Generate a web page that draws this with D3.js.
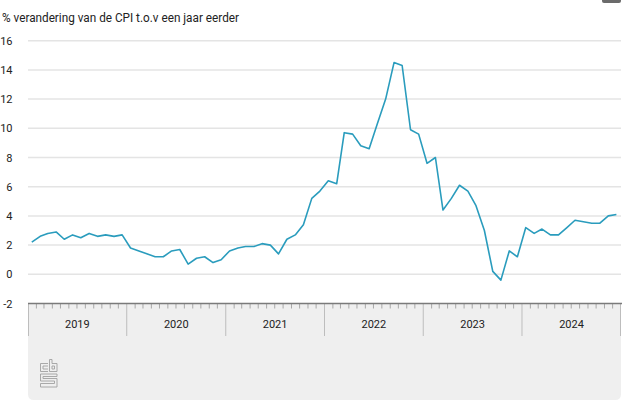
<!DOCTYPE html>
<html>
<head>
<meta charset="utf-8">
<script src="https://cdn.jsdelivr.net/npm/d3@7"></script>
<style>
  html, body { margin: 0; padding: 0; background: #fff; }
  svg { display: block; }
  text { font-family: Roboto, "Open Sans", sans-serif; }
</style>
</head>
<body>
<svg id="chart" width="623" height="415"></svg>
<script>
// ---- data ----
const title = "% verandering van de CPI t.o.v een jaar eerder";
const years = [2019, 2020, 2021, 2022, 2023, 2024];
const yTicks = [-2, 0, 2, 4, 6, 8, 10, 12, 14, 16];
const values2019 = [2.2, 2.6, 2.8, 2.9, 2.4, 2.7, 2.5, 2.8, 2.6, 2.7, 2.6, 2.7];
const values2020 = [1.8, 1.6, 1.4, 1.2, 1.2, 1.6, 1.7, 0.7, 1.1, 1.2, 0.8, 1.0];
const values2021 = [1.6, 1.8, 1.9, 1.9, 2.1, 2.0, 1.4, 2.4, 2.7, 3.4, 5.2, 5.7];
const values2022 = [6.4, 6.2, 9.7, 9.6, 8.8, 8.6, 10.3, 12.0, 14.5, 14.3, 9.9, 9.6];
const values2023 = [7.6, 8.0, 4.4, 5.2, 6.1, 5.7, 4.7, 3.0, 0.2, -0.4, 1.6, 1.2];
const values2024 = [3.2, 2.8, 3.1, 2.7, 2.7, 3.2, 3.7, 3.6, 3.5, 3.5, 4.0, 4.1];

const series = [values2019, values2020, values2021, values2022, values2023, values2024]
  .flatMap((arr, yi) => arr.map((v, m) => ({ date: new Date(years[yi], m, 15), value: v })));

// ---- layout ----
const svg = d3.select("#chart");
const pLeft = 28, pRight = 621, pTop = 40.7, pBottom = 303.5, panelBottom = 400;

const x = d3.scaleTime()
  .domain([new Date(years[0], 0, 1), new Date(years[years.length - 1] + 1, 0, 1)])
  .range([pLeft, pRight]);
const y = d3.scaleLinear().domain([-2, 16]).range([pBottom, pTop]);

// top-right menu button (cut off)
svg.append("rect").attr("x", 602).attr("y", -6).attr("width", 19).attr("height", 9)
  .attr("rx", 2).attr("fill", "#6b6b6b");

// title
svg.append("text").attr("x", 2).attr("y", 22).attr("font-size", 12.5).attr("fill", "#222")
  .attr("textLength", 237).attr("lengthAdjust", "spacingAndGlyphs")
  .text(title);

// gray panel with rounded bottom corners
const r = 6;
svg.append("path")
  .attr("d", `M${pLeft},${pBottom} H${pRight} V${panelBottom - r} Q${pRight},${panelBottom} ${pRight - r},${panelBottom} H${pLeft + r} Q${pLeft},${panelBottom} ${pLeft},${panelBottom - r} Z`)
  .attr("fill", "#efefef");

// gridlines
svg.append("g").selectAll("line").data(yTicks.filter(d => d > -2)).join("line")
  .attr("x1", pLeft).attr("x2", pRight)
  .attr("y1", d => y(d)).attr("y2", d => y(d))
  .attr("stroke", "#e4e4e4").attr("stroke-width", 1.5);

// y labels
const yAxis = d3.axisLeft(y).tickValues(yTicks).tickSize(0).tickPadding(0)
  .tickFormat(d => String(d));
const gy = svg.append("g").attr("transform", "translate(12.5,0)").call(yAxis);
gy.select(".domain").remove();
gy.selectAll("text").attr("font-size", 11).attr("fill", "#222")
  .attr("font-family", "Roboto, sans-serif");

// month ticks
const months = d3.timeMonth.range(x.domain()[0], x.domain()[1]).filter(d => d.getMonth() !== 0);
svg.append("g").selectAll("line").data(months).join("line")
  .attr("x1", d => x(d)).attr("x2", d => x(d))
  .attr("y1", pBottom).attr("y2", pBottom + 5)
  .attr("stroke", "#a8a8a8").attr("stroke-width", 1);

// year dividers
const yearStarts = d3.timeYear.range(x.domain()[0], d3.timeDay.offset(x.domain()[1], 1));
svg.append("g").selectAll("line").data(yearStarts).join("line")
  .attr("x1", d => Math.min(pRight - 0.5, Math.max(pLeft + 0.5, x(d))))
  .attr("x2", d => Math.min(pRight - 0.5, Math.max(pLeft + 0.5, x(d))))
  .attr("y1", pBottom).attr("y2", 336)
  .attr("stroke", "#bdbdbd").attr("stroke-width", 1);

// axis line
svg.append("line").attr("x1", pLeft).attr("x2", pRight + 1)
  .attr("y1", pBottom).attr("y2", pBottom)
  .attr("stroke", "#7a7a7a").attr("stroke-width", 1.5);

// year labels
svg.append("g").selectAll("text").data(years).join("text")
  .attr("x", d => (x(new Date(d, 0, 1)) + x(new Date(d + 1, 0, 1))) / 2)
  .attr("y", 327.5).attr("text-anchor", "middle")
  .attr("font-size", 11).attr("fill", "#222")
  .text(d => d);

// line
const line = d3.line().x(d => x(d.date)).y(d => y(d.value));
svg.append("path").datum(series)
  .attr("d", line).attr("fill", "none")
  .attr("stroke", "#2a9cbd").attr("stroke-width", 1.6).attr("stroke-linejoin", "round");

// cbs logo
const logo = svg.append("g").attr("fill", "none").attr("stroke", "#a0a0a0").attr("stroke-width", 0.9);
logo.append("path").attr("d", "M48,363.5 H40.5 V371.5 H48 M48,366 H43 V369 H48");
logo.append("path").attr("d", "M49.5,359.5 V371.5 H57 V363.5 H52 V359.5 Z M52,366 H54.5 V369 H52 Z");
logo.append("path").attr("d", "M57,374 H40.5 V381 H54.5 V383.5 H40.5 V387 H57 V378.5 H43 V376.5 H57 Z");
</script>
</body>
</html>
